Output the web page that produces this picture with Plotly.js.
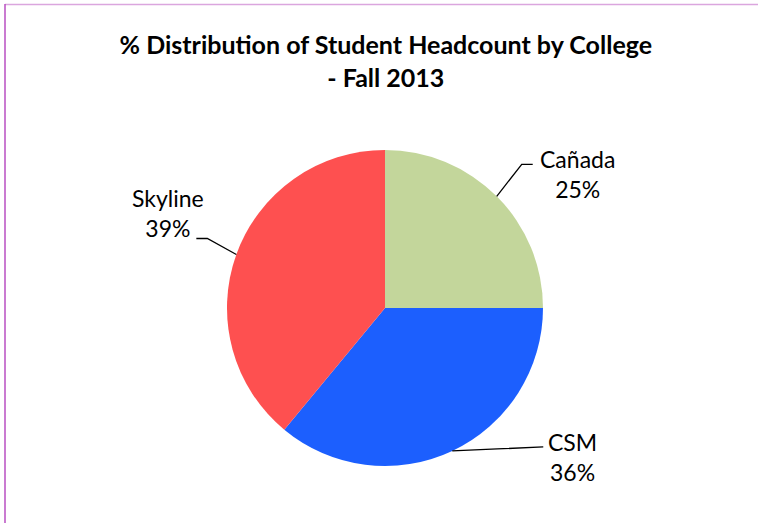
<!DOCTYPE html>
<html>
<head>
<meta charset="utf-8">
<script src="https://cdn.plot.ly/plotly-3.0.1.min.js"></script>
<style>
  html, body { margin: 0; padding: 0; background: #ffffff; }
  #chart { width: 758px; height: 523px; }
</style>
</head>
<body>
<div id="chart"></div>
<script>
// ---- Data ----
var colleges = ["Cañada", "CSM", "Skyline"];
var percents = [25, 36, 39];
var sliceColors = ["#c3d69b", "#1c5ffe", "#fe5050"];
var chartTitle = "% Distribution of Student Headcount by College<br>- Fall 2013";

// ---- Layout constants (pixels) ----
var W = 758, H = 523;
var pieBox = { x0: 227, x1: 543, y0: 150, y1: 466 };   // pie domain in px
var cx = (pieBox.x0 + pieBox.x1) / 2, cy = (pieBox.y0 + pieBox.y1) / 2;
var R = (pieBox.x1 - pieBox.x0) / 2;

// leader line style per slice: elbow offset from slice edge, then end offset, and label centre offset from end
var leader = [
  { elbow: [25, -32], end: [36, -32], label: [45, 10] },
  { elbow: [45, -2],  end: [91, -4],  label: [29, 10] },
  { elbow: [-29, -16], end: [-40, -16], label: [-28, -25] }
];

function px(x) { return x / W; }
function py(y) { return 1 - y / H; }

var total = percents.reduce(function (a, b) { return a + b; }, 0);
var shapes = [];
var annotations = [];
var cum = 0;
for (var i = 0; i < colleges.length; i++) {
  var mid = (cum + percents[i] / 2) / total;
  cum += percents[i];
  var ang = mid * 2 * Math.PI;           // clockwise from 12 o'clock
  var ax = cx + R * Math.sin(ang);
  var ay = cy - R * Math.cos(ang);
  var L = leader[i];
  var ex = ax + L.elbow[0], ey = ay + L.elbow[1];
  var fx = ax + L.end[0], fy = ay + L.end[1];
  shapes.push({
    type: "path", xref: "paper", yref: "paper",
    path: "M " + px(ax) + "," + py(ay) + " L " + px(ex) + "," + py(ey) + " L " + px(fx) + "," + py(fy),
    line: { color: "#000000", width: 1.3 }
  });
  annotations.push({
    xref: "paper", yref: "paper",
    x: px(fx + L.label[0]), y: py(fy + L.label[1]),
    xanchor: "center", yanchor: "middle", align: "center",
    showarrow: false,
    text: colleges[i] + "<br>" + Math.round(percents[i] / total * 100) + "%",
    font: { family: "Lato, 'Open Sans', sans-serif", size: 23, color: "#000000" }
  });
}

// frame lines (top and left)
shapes.push({ type: "line", xref: "paper", yref: "paper", x0: px(5), x1: 1, y0: py(4.5), y1: py(4.5),
  line: { color: "#dba6de", width: 1.5 } });
shapes.push({ type: "line", xref: "paper", yref: "paper", x0: px(5), x1: px(5), y0: py(4), y1: 0,
  line: { color: "#b94fc2", width: 1.5 } });

var trace = {
  type: "pie",
  labels: colleges,
  values: percents,
  sort: false,
  direction: "clockwise",
  rotation: 0,
  textinfo: "none",
  hoverinfo: "label+percent",
  marker: { colors: sliceColors, line: { width: 0 } },
  domain: { x: [px(pieBox.x0), px(pieBox.x1)], y: [py(pieBox.y1), py(pieBox.y0)] },
  showlegend: false
};

var layout = {
  width: W, height: H,
  margin: { l: 0, r: 0, t: 0, b: 0 },
  paper_bgcolor: "#ffffff",
  title: {
    text: chartTitle,
    font: { family: "Lato, 'Open Sans', sans-serif", size: 25, color: "#000000", weight: "bold" },
    x: 0.509, xanchor: "center",
    y: py(54), yanchor: "middle"
  },
  shapes: shapes,
  annotations: annotations,
  showlegend: false
};

Plotly.newPlot("chart", [trace], layout, { displayModeBar: false, staticPlot: true });
</script>
</body>
</html>
